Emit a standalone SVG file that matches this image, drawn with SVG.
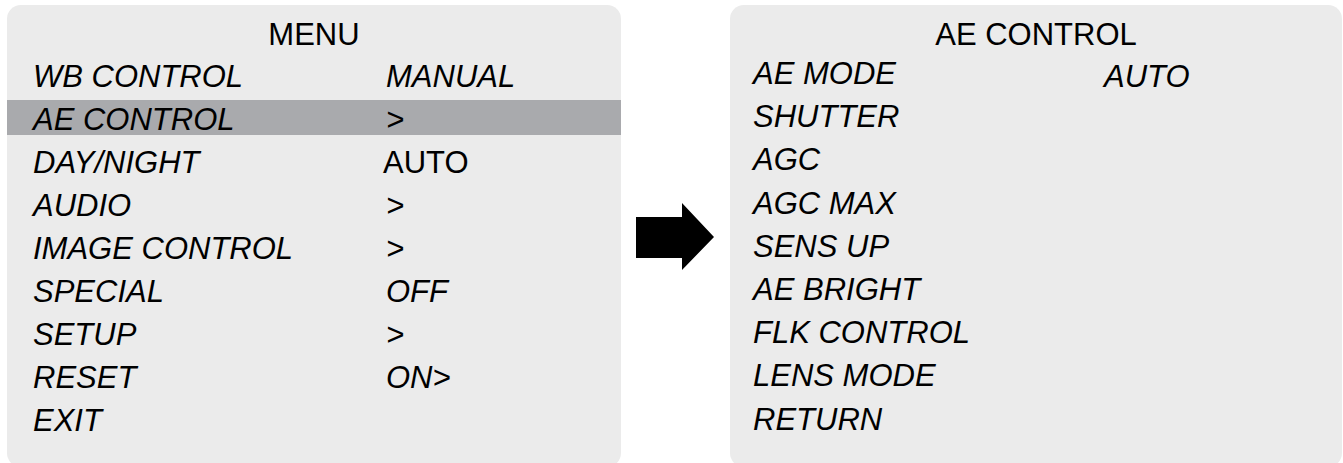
<svg xmlns="http://www.w3.org/2000/svg" width="1343" height="463" viewBox="0 0 1343 463">
<style>
.panel{fill:#ebebeb}
.t{font-family:"Liberation Sans",Arial,sans-serif;font-size:31px;fill:#000}
.i{font-style:italic}
.c{text-anchor:middle}
</style>
<rect x="0" y="0" width="1343" height="463" fill="#fff"/>
<g id="menu">
<rect class="panel" x="7" y="5" width="614" height="462" rx="14"/>
<rect x="7" y="100" width="614" height="35" fill="#a9aaad"/>
<text class="t c" x="314" y="45">MENU</text>
<text class="t i" x="33" y="87">WB CONTROL</text><text class="t i" x="386" y="87">MANUAL</text>
<text class="t i" x="33" y="130">AE CONTROL</text><text class="t i" x="386" y="130">&gt;</text>
<text class="t i" x="33" y="173">DAY/NIGHT</text><text class="t" x="383" y="173">AUTO</text>
<text class="t i" x="33" y="216">AUDIO</text><text class="t i" x="386" y="216">&gt;</text>
<text class="t i" x="33" y="259">IMAGE CONTROL</text><text class="t i" x="386" y="259">&gt;</text>
<text class="t i" x="33" y="302">SPECIAL</text><text class="t i" x="386" y="302">OFF</text>
<text class="t i" x="33" y="345">SETUP</text><text class="t i" x="386" y="345">&gt;</text>
<text class="t i" x="33" y="388">RESET</text><text class="t i" x="386" y="388">ON&gt;</text>
<text class="t i" x="33" y="431">EXIT</text>
</g>
<g id="connectors">
<polygon points="636,217 682,217 682,203 714,237 682,270 682,258 636,258" fill="#000"/>
</g>
<g id="ae-control">
<rect class="panel" x="730" y="5" width="612" height="462" rx="14"/>
<text class="t c" x="1036" y="45">AE CONTROL</text>
<text class="t i" x="753" y="84">AE MODE</text><text class="t i" x="1104" y="87">AUTO</text>
<text class="t i" x="753" y="127">SHUTTER</text>
<text class="t i" x="753" y="170">AGC</text>
<text class="t i" x="753" y="214">AGC MAX</text>
<text class="t i" x="753" y="257">SENS UP</text>
<text class="t i" x="753" y="300">AE BRIGHT</text>
<text class="t i" x="753" y="343">FLK CONTROL</text>
<text class="t i" x="753" y="386">LENS MODE</text>
<text class="t i" x="753" y="430">RETURN</text>
</g>
</svg>
